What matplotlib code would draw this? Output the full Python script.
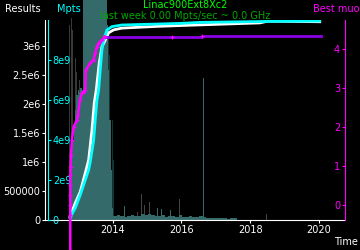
import matplotlib
matplotlib.use("Agg")
import matplotlib.pyplot as plt
import numpy as np

W, H = 360, 250

# cumulative results (white, left axis)
res_years = [2012.757, 2012.911, 2013.056, 2013.202, 2013.300, 2013.396, 2013.463,
             2013.521, 2013.608, 2013.687, 2013.765, 2013.882, 2014.027, 2014.268,
             2015.286, 2016.245, 2018.280, 2018.513, 2020.024]
res_vals = [5.7e4, 2.93e5, 4.88e5, 8.1e5, 1.035e6, 1.55e6, 2.02e6,
            2.24e6, 2.71e6, 2.99e6, 3.08e6, 3.23e6, 3.28e6, 3.31e6,
            3.34e6, 3.36e6, 3.40e6, 3.43e6, 3.42e6]

# cumulative Mpts (cyan)
mpts_years = [2012.765, 2012.829, 2012.911, 2013.056, 2013.202, 2013.300, 2013.347,
              2013.446, 2013.492, 2013.542, 2013.591, 2013.638, 2013.687, 2013.736,
              2013.832, 2013.978, 2014.268, 2015.954, 2016.536, 2018.571, 2020.024]
mpts_vals = [1.0e8, 3.5e8, 6.0e8, 1.25e9, 2.0e9, 2.5e9, 2.9e9,
             4.0e9, 5.0e9, 6.0e9, 6.5e9, 7.5e9, 8.5e9, 9.0e9,
             9.5e9, 9.67e9, 9.75e9, 9.83e9, 9.88e9, 9.93e9, 9.95e9]

# best muon, early climb (magenta) and later plateau (purple)
muon_years = [2012.765, 2012.765, 2012.765, 2012.765, 2012.765, 2012.770, 2012.773,
              2012.785, 2012.814, 2012.864, 2012.960, 2012.989, 2013.047, 2013.105,
              2013.154, 2013.200, 2013.221, 2013.346, 2013.445, 2013.491, 2013.541,
              2013.590, 2013.686, 2013.765]
muon_vals = [-1.15, -0.26, 0.0, 0.26, 0.51, 0.77, 0.98,
             1.28, 1.67, 2.01, 2.18, 2.31, 2.69, 2.87,
             2.91, 2.95, 3.46, 3.64, 3.72, 3.90, 4.06,
             4.15, 4.23, 4.32]
plateau_years = [2013.765, 2015.713, 2016.585, 2016.585, 2020.053]
plateau_vals = [4.30, 4.30, 4.30, 4.34, 4.34]
plateau_marks = [2015.713, 2016.585]

# weekly histogram, thousands of results per bin
bin_w = 0.04
early_start = 2012.74
teal_early = [690, 1035, 1380, 1640, 1900, 2155, 2245, 2210, 2275, 2245,
              4000, 4000, 4000, 4000, 4000, 4000, 4000, 4000, 4000, 4000,
              4000, 4000, 4000, 4000, 4000, 4000, 4000,
              3365, 2590, 1725, 860, 205]
gray_early = [3365, 3485, 3280, 2760, 2795, 2555, 2590, 2415, 2070, 1900, 1640]
dark_years = [2013.86, 2013.90, 2013.94, 2013.98, 2014.02]
dark_vals = [3280, 2845, 2245, 1725, 1035]

late_w = 0.1
late_start = 2014.02
teal_late = [69, 86, 69, 52, 69, 86, 69, 69, 104, 86, 104, 86, 69, 69, 86, 52,
             69, 69, 52, 86, 52, 52, 69, 52, 52, 69, 52, 35, 35, 35, 35, 35,
             35, 17, 35, 26]
teal_spike_years = [2014.33, 2015.28, 2015.40, 2015.66, 2016.63]
teal_spike_vals = [240, 207, 190, 172, 2450]
gray_spike_years = [2014.70, 2014.82, 2014.91, 2015.06, 2015.93, 2018.45]
gray_spike_vals = [138, 450, 260, 310, 360, 104]

plt.rcParams["font.size"] = 7
fig = plt.figure(figsize=(W / 100, H / 100), dpi=100, facecolor="black")
ax = fig.add_axes([45 / W, 30 / H, 300 / W, 200 / H])
ax.set_facecolor("black")

teal, gray, dark = "#356a6a", "#383838", "#113535"
hist_kw = dict(align="edge", linewidth=0, clip_on=False)

# gray bars are drawn as thin stripes, as in the original
early_x = early_start + bin_w * np.arange(len(gray_early))
ax.bar(early_x, np.array(gray_early) * 1e3, width=bin_w * 0.55, color=gray, zorder=1,
       **hist_kw)
ax.bar(dark_years, np.array(dark_vals) * 1e3, width=bin_w * 0.6, color=dark, zorder=1,
       **hist_kw)
ax.bar(gray_spike_years, np.array(gray_spike_vals) * 1e3, width=0.03, color="#444444",
       zorder=1, **hist_kw)
teal_x = early_start + bin_w * np.arange(len(teal_early))
ax.bar(teal_x, np.array(teal_early) * 1e3, width=bin_w, color=teal, zorder=2, **hist_kw)
late_x = late_start + late_w * np.arange(len(teal_late))
ax.bar(late_x, np.array(teal_late) * 1e3, width=late_w, color=teal, zorder=2, **hist_kw)
ax.bar(teal_spike_years, np.array(teal_spike_vals) * 1e3, width=0.03, color=teal,
       zorder=2, **hist_kw)

ax.plot(res_years, res_vals, color="white", lw=2, zorder=3)

ax.set_xlim(2012.03, 2020.76)
ax.set_ylim(0, 3.45e6)
ax.set_xticks([2014, 2016, 2018, 2020])
ax.set_yticks([0, 5e5, 1e6, 1.5e6, 2e6, 2.5e6, 3e6],
              ["0", "500000", "1e6", "1.5e6", "2e6", "2.5e6", "3e6"])
for s in ("top", "right"):
    ax.spines[s].set_visible(False)
for s in ("left", "bottom"):
    ax.spines[s].set_color("white")
    ax.spines[s].set_linewidth(0.8)
ax.tick_params(colors="white", length=2.5, width=0.8, pad=1)

# Mpts axis, spine just right of the results axis
ax_m = ax.twinx()
for s in ("top", "left", "bottom"):
    ax_m.spines[s].set_visible(False)
ax_m.spines["right"].set_position(("axes", 3 / 300))
ax_m.spines["right"].set_color("cyan")
ax_m.spines["right"].set_linewidth(0.8)
ax_m.plot(mpts_years, mpts_vals, color="cyan", lw=2)
ax_m.set_ylim(0, 1e10)
ax_m.set_yticks([0, 2e9, 4e9, 6e9, 8e9], ["0", "2e9", "4e9", "6e9", "8e9"])
ax_m.tick_params(axis="y", colors="cyan", length=2.5, width=0.8, pad=1)

# best muon axis on the right, labels inside
ax_b = ax.twinx()
for s in ("top", "right", "bottom"):
    ax_b.spines[s].set_visible(False)
ax_b.spines["left"].set_position(("axes", 1.0))
ax_b.spines["left"].set_color("#ff00ff")
ax_b.spines["left"].set_linewidth(0.8)
ax_b.yaxis.set_ticks_position("left")
ax_b.plot(plateau_years, plateau_vals, color="#8a00e8", lw=2)
ax_b.plot(plateau_marks, [4.30, 4.34], ls="none", marker="+", ms=3, mew=0.8,
          color="#ff00ff")
ax_b.plot(muon_years, muon_vals, color="#ff00ff", lw=1.8, marker="+", ms=3,
          mew=0.8, clip_on=False)
ax_b.set_ylim(-0.385, 4.744)
ax_b.set_yticks([0, 1, 2, 3, 4])
ax_b.tick_params(axis="y", colors="#ff00ff", length=2.5, width=0.8, pad=1)

fig.text(5 / W, 1 - 9 / H, "Results", color="white", va="center", ha="left")
fig.text(57 / W, 1 - 9 / H, "Mpts", color="cyan", va="center", ha="left")
fig.text(185 / W, 1 - 5 / H, "Linac900Ext8Xc2", color="#00ff00", va="center", ha="center")
fig.text(185 / W, 1 - 16 / H, "last week 0.00 Mpts/sec ~ 0.0 GHz", color="#00a800",
         va="center", ha="center")
fig.text(313 / W, 1 - 9 / H, "Best muon", color="#ff00ff", va="center", ha="left")
fig.text(334 / W, 1 - 242 / H, "Time", color="white", va="center", ha="left")

fig.savefig("out.png", dpi=100, facecolor="black")
